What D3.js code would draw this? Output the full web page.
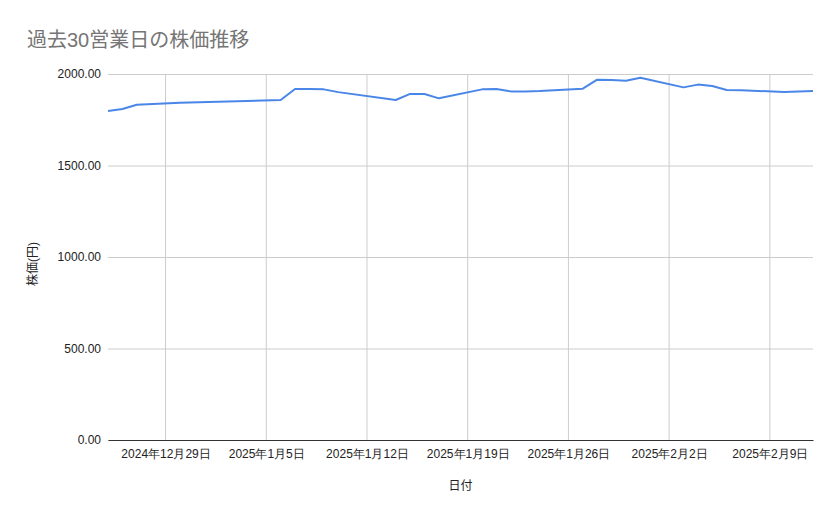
<!DOCTYPE html>
<html lang="ja">
<head>
  <meta charset="UTF-8">
  <title>過去30営業日の株価推移</title>
  <script src="https://d3js.org/d3.v7.min.js"></script>
  <style>
    body {
      margin: 0;
      background: #fff;
      font-family: Arial, "Liberation Sans", "Noto Sans CJK JP", sans-serif;
    }
    svg { display: block; }
  </style>
</head>
<body>

<svg id="chart" width="839" height="519"></svg>

<script>
// Data
const dates = [
  "2024-12-25", "2024-12-26", "2024-12-27", "2024-12-30",
  "2025-01-06", "2025-01-07", "2025-01-08", "2025-01-09", "2025-01-10",
  "2025-01-14", "2025-01-15", "2025-01-16", "2025-01-17",
  "2025-01-20", "2025-01-21", "2025-01-22", "2025-01-23", "2025-01-24",
  "2025-01-27", "2025-01-28", "2025-01-29", "2025-01-30", "2025-01-31",
  "2025-02-03", "2025-02-04", "2025-02-05", "2025-02-06", "2025-02-07",
  "2025-02-10", "2025-02-12"
];
const prices = [
  1798, 1809, 1832, 1843,
  1858, 1918, 1918, 1916, 1901,
  1858, 1891, 1891, 1867,
  1916, 1918, 1905, 1905, 1907,
  1920, 1969, 1967, 1963, 1980,
  1927, 1942, 1934, 1913, 1911,
  1902, 1907
];
const yTicks = [0, 500, 1000, 1500, 2000];

const chartTitle = "過去30営業日の株価推移";
const xTitle = "日付";
const yTitle = "株価(円)";

// Setup dimensions
const W = 839, H = 519;
const margin = {top: 74, right: 26, bottom: 79, left: 108};
const width = W - margin.left - margin.right;
const height = H - margin.top - margin.bottom;

const parse = d3.timeParse("%Y-%m-%d");
const data = dates.map((d, i) => ({date: parse(d), price: prices[i]}));

const svg = d3.select("#chart");
svg.append("rect").attr("width", W).attr("height", H).attr("fill", "#fff");

const g = svg.append("g")
  .attr("transform", `translate(${margin.left},${margin.top})`);

// Scales
const x = d3.scaleTime()
  .domain(d3.extent(data, d => d.date))
  .range([0, width]);

const y = d3.scaleLinear()
  .domain([0, 2000])
  .range([height, 0]);

const fmtDate = d => `${d.getFullYear()}年${d.getMonth() + 1}月${d.getDate()}日`;
const weekTicks = d3.timeSunday.range(x.domain()[0], d3.timeDay.offset(x.domain()[1], 1));

// Horizontal grid lines + y labels
const yAxis = g.append("g")
  .call(d3.axisLeft(y).tickValues(yTicks).tickSize(-width).tickPadding(7).tickFormat(d3.format(".2f")));
yAxis.select(".domain").remove();
yAxis.selectAll("line").attr("stroke", "#cccccc");
yAxis.selectAll("text")
  .attr("fill", "#222")
  .style("font-size", "12px")
  .style("font-family", "Arial, 'Liberation Sans', sans-serif");

// Vertical grid lines
g.append("g")
  .selectAll("line")
  .data(weekTicks)
  .join("line")
  .attr("x1", d => x(d)).attr("x2", d => x(d))
  .attr("y1", 0).attr("y2", height)
  .attr("stroke", "#cccccc");

// X axis
const xAxis = g.append("g")
  .attr("transform", `translate(0,${height})`)
  .call(d3.axisBottom(x).tickValues(weekTicks).tickSize(0).tickPadding(9).tickFormat(fmtDate));
xAxis.select(".domain").attr("stroke", "#333").attr("stroke-width", 1.2);
xAxis.selectAll("text")
  .attr("fill", "#222")
  .style("font-size", "12px");

// Line
const line = d3.line()
  .x(d => x(d.date))
  .y(d => y(d.price));

g.append("path")
  .datum(data)
  .attr("fill", "none")
  .attr("stroke", "#4a86e8")
  .attr("stroke-width", 2)
  .attr("stroke-linejoin", "round")
  .attr("d", line);

// Titles
svg.append("text")
  .attr("x", 27).attr("y", 47)
  .attr("fill", "#757575")
  .style("font-size", "20px")
  .text(chartTitle);

svg.append("text")
  .attr("x", margin.left + width / 2).attr("y", 490)
  .attr("text-anchor", "middle")
  .attr("fill", "#222")
  .style("font-size", "12px")
  .text(xTitle);

svg.append("text")
  .attr("transform", `translate(37,${margin.top + height / 2 + 7}) rotate(-90)`)
  .attr("text-anchor", "middle")
  .attr("fill", "#222")
  .style("font-size", "12px")
  .text(yTitle);
</script>

</body>
</html>
